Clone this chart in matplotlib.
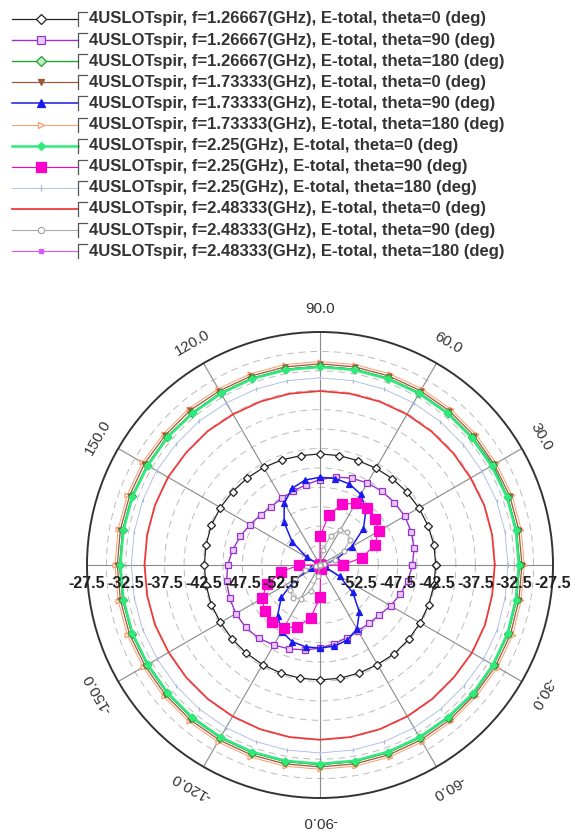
import numpy as np
import matplotlib
matplotlib.use('Agg')
import matplotlib.pyplot as plt
from matplotlib.lines import Line2D
from matplotlib.transforms import offset_copy

plt.rcParams['font.family'] = ['Liberation Sans', 'DejaVu Sans']

# angulos phi (grados), un punto cada 10 grados
phi = np.arange(0, 360, 10)

# E-total (dB), phi = 0..350
e_126_t0 = [-42.6, -42.6, -42.7, -42.8, -42.9, -43.0, -43.1, -43.2, -43.2, -43.2, -43.2, -43.1,
            -43.0, -42.9, -42.8, -42.7, -42.6, -42.6, -42.6, -42.6, -42.6, -42.7, -42.7, -42.7,
            -42.7, -42.7, -42.7, -42.7, -42.7, -42.7, -42.7, -42.6, -42.6, -42.6, -42.6, -42.6]
e_126_t90 = [-45.6, -45.2, -45.0, -44.9, -45.0, -45.1, -45.3, -45.6, -46.0, -46.5, -47.0, -47.4,
             -47.6, -47.7, -47.5, -47.1, -46.6, -46.1, -45.6, -45.3, -45.1, -45.0, -45.0, -45.2,
             -45.6, -46.0, -46.4, -46.8, -47.2, -47.5, -47.7, -47.7, -47.5, -47.0, -46.5, -46.0]
e_126_t180 = [-31.8, -31.8, -31.8, -31.8, -31.9, -31.9, -31.9, -31.9, -31.9, -31.9, -31.9, -31.9,
              -31.9, -31.9, -31.8, -31.8, -31.7, -31.7, -31.7, -31.7, -31.7, -31.8, -31.8, -31.8,
              -31.8, -31.8, -31.8, -31.8, -31.8, -31.8, -31.8, -31.8, -31.7, -31.7, -31.7, -31.8]
e_173_t0 = [-31.5, -31.5, -31.5, -31.6, -31.6, -31.6, -31.6, -31.6, -31.6, -31.6, -31.6, -31.6,
            -31.6, -31.5, -31.5, -31.4, -31.4, -31.4, -31.4, -31.4, -31.4, -31.5, -31.5, -31.5,
            -31.5, -31.5, -31.5, -31.5, -31.5, -31.5, -31.5, -31.5, -31.5, -31.4, -31.4, -31.5]
e_173_t90 = [-57.5, -56.8, -55.2, -52.8, -50.2, -48.3, -47.0, -46.4, -46.2, -46.2, -46.4, -47.0,
             -48.3, -50.3, -52.8, -55.5, -57.5, -57.5, -57.5, -57.5, -56.2, -53.8, -51.0, -49.0,
             -47.6, -47.0, -46.8, -46.8, -46.9, -47.2, -48.0, -49.6, -52.0, -54.6, -56.8, -57.5]
e_173_t180 = [-31.2, -31.2, -31.2, -31.3, -31.3, -31.3, -31.3, -31.3, -31.3, -31.3, -31.3, -31.3,
              -31.3, -31.2, -31.2, -31.1, -31.1, -31.1, -31.1, -31.1, -31.1, -31.2, -31.2, -31.2,
              -31.2, -31.2, -31.2, -31.2, -31.2, -31.2, -31.2, -31.2, -31.2, -31.1, -31.1, -31.2]
e_225_t0 = [-31.9, -31.9, -31.9, -32.0, -32.0, -32.0, -32.0, -32.0, -32.0, -32.0, -32.0, -32.0,
            -32.0, -32.0, -31.9, -31.9, -31.8, -31.8, -31.8, -31.8, -31.8, -31.9, -31.9, -31.9,
            -31.9, -31.9, -31.9, -31.9, -31.9, -31.9, -31.9, -31.9, -31.8, -31.8, -31.8, -31.9]
e_225_t90 = [-54.6, -52.0, -50.0, -48.8, -48.2, -48.0, -48.3, -49.2, -51.0, -53.8, -57.5, -57.5,
             -57.5, -57.5, -57.5, -57.5, -57.5, -57.5, -54.8, -52.4, -50.2, -48.9, -48.2, -47.9,
             -48.2, -49.0, -50.6, -53.4, -57.0, -57.5, -57.5, -57.5, -57.5, -57.5, -57.5, -57.5]
e_225_t180 = [-33.3, -33.3, -33.3, -33.4, -33.4, -33.4, -33.4, -33.4, -33.4, -33.4, -33.4, -33.4,
              -33.4, -33.3, -33.3, -33.2, -33.2, -33.2, -33.2, -33.2, -33.2, -33.3, -33.3, -33.3,
              -33.3, -33.3, -33.3, -33.3, -33.3, -33.3, -33.3, -33.3, -33.3, -33.2, -33.2, -33.3]
e_248_t0 = [-35.0, -35.0, -35.0, -35.1, -35.1, -35.1, -35.1, -35.1, -35.1, -35.1, -35.1, -35.1,
            -35.1, -35.0, -35.0, -34.9, -34.9, -34.9, -34.9, -34.9, -34.9, -35.0, -35.0, -35.0,
            -35.0, -35.0, -35.0, -35.0, -35.0, -35.0, -35.0, -35.0, -35.0, -34.9, -34.9, -35.0]
e_248_t90 = [-57.5, -57.0, -55.5, -54.0, -52.5, -52.0, -52.3, -53.5, -55.5, -57.5, -57.5, -57.5,
             -57.5, -57.5, -57.5, -57.5, -57.5, -57.5, -57.5, -57.0, -55.5, -53.8, -52.5, -52.0,
             -52.5, -54.0, -56.0, -57.5, -57.5, -57.5, -57.5, -57.5, -57.5, -57.5, -57.5, -57.5]
e_248_t180 = [-31.8, -31.8, -31.8, -31.8, -31.9, -31.9, -31.9, -31.9, -31.9, -31.9, -31.9, -31.9,
              -31.9, -31.9, -31.8, -31.8, -31.7, -31.7, -31.7, -31.7, -31.7, -31.8, -31.8, -31.8,
              -31.8, -31.8, -31.8, -31.8, -31.8, -31.8, -31.8, -31.8, -31.7, -31.7, -31.7, -31.8]

etiquetas = [
    "4USLOTspir, f=1.26667(GHz), E-total, theta=0 (deg)",
    "4USLOTspir, f=1.26667(GHz), E-total, theta=90 (deg)",
    "4USLOTspir, f=1.26667(GHz), E-total, theta=180 (deg)",
    "4USLOTspir, f=1.73333(GHz), E-total, theta=0 (deg)",
    "4USLOTspir, f=1.73333(GHz), E-total, theta=90 (deg)",
    "4USLOTspir, f=1.73333(GHz), E-total, theta=180 (deg)",
    "4USLOTspir, f=2.25(GHz), E-total, theta=0 (deg)",
    "4USLOTspir, f=2.25(GHz), E-total, theta=90 (deg)",
    "4USLOTspir, f=2.25(GHz), E-total, theta=180 (deg)",
    "4USLOTspir, f=2.48333(GHz), E-total, theta=0 (deg)",
    "4USLOTspir, f=2.48333(GHz), E-total, theta=90 (deg)",
    "4USLOTspir, f=2.48333(GHz), E-total, theta=180 (deg)",
]
series = [e_126_t0, e_126_t90, e_126_t180, e_173_t0, e_173_t90, e_173_t180,
          e_225_t0, e_225_t90, e_225_t180, e_248_t0, e_248_t90, e_248_t180]

# color, marcador, relleno, tamano, grosor
estilos = [
    ('#222222', 'D', 'white', 4.0, 0.9),
    ('#9933CC', 's', '#E6CCF5', 4.5, 1.0),
    ('#22A033', 'D', '#BFEFC0', 4.5, 1.0),
    ('#9A5A3A', 'v', '#9A5A3A', 3.5, 0.9),
    ('#1A1AEE', '^', '#1A1AEE', 4.5, 1.1),
    ('#FF9A6A', '>', 'white', 3.5, 0.7),
    ('#2EEA7A', 'D', '#2EEA7A', 3.5, 1.8),
    ('#FF00CC', 's', '#FF00CC', 6.5, 0.8),
    ('#A8B8E0', '|', '#A8B8E0', 3.5, 0.6),
    ('#F03A3A', None, 'none', 0, 1.3),
    ('#A8A8A8', 'o', 'white', 3.5, 0.8),
    ('#DD55FF', 's', '#DD55FF', 2.5, 0.8),
]

rmin, rmax = -57.5, -27.5
W, H = 584, 831
fig = plt.figure(figsize=(W / 100, H / 100), dpi=100)

cx, cy, rad = 320, 565, 233
ax = fig.add_axes([(cx - rad) / W, (H - cy - rad) / H, 2 * rad / W, 2 * rad / H],
                  projection='polar')
ax.set_ylim(rmin, rmax)
ax.grid(False)
ax.set_xticks([])
ax.set_yticks([])
ax.spines['polar'].set_color('#333333')
ax.spines['polar'].set_linewidth(1.4)

# rejilla
t = np.linspace(0, 2 * np.pi, 400)
for rv in np.arange(-55, -27.6, 2.5):
    ax.plot(t, np.full_like(t, rv), color='#BBBBBB', lw=0.7, ls=(0, (7, 5)), zorder=1)
for a in range(0, 360, 30):
    ax.plot([np.deg2rad(a)] * 2, [rmin, rmax], color='#8A8A8A', lw=0.8, zorder=1)

# curvas
ang = np.deg2rad(np.append(phi, 360))
orden = [11, 8, 5, 3, 2, 6, 9, 0, 1, 4, 7, 10]
for i in orden:
    col, mk, mfc, ms, lw = estilos[i]
    vals = np.clip(np.append(series[i], series[i][0]), rmin, None)
    ax.plot(ang, vals, color=col, lw=lw, marker=mk, mfc=mfc, mec=col, ms=ms,
            mew=0.9, zorder=3, clip_on=False)

# etiquetas de angulo
r_lab = rmin + (rmax - rmin) * 256 / 233
for a in [90, 60, 30, -30, -60, -90, -120, -150, 150, 120]:
    ax.text(np.deg2rad(a), r_lab, f"{a:.1f}", rotation=a - 90, rotation_mode='anchor',
            ha='center', va='center', fontsize=11, color='#333333', clip_on=False)

# etiquetas radiales
tr = offset_copy(ax.transData, fig=fig, y=-13, units='points')
for rv in [-52.5, -47.5, -42.5, -37.5, -32.5, -27.5]:
    for a in [0, np.pi]:
        ax.text(a, rv, f"{rv:.1f}", transform=tr, ha='center', va='center',
                fontsize=11.5, fontweight='bold', color='#222222', clip_on=False)

# leyenda
def fx(x):
    return x / W

def fy(y):
    return 1 - y / H

y0, dy = 19, 21.1
for k, txt in enumerate(etiquetas):
    y = y0 + k * dy
    col, mk, mfc, ms, lw = estilos[k]
    fig.add_artist(Line2D([fx(12), fx(78)], [fy(y), fy(y)], color=col, lw=lw))
    if mk is not None:
        fig.add_artist(Line2D([fx(41)], [fy(y)], color=col, marker=mk, mfc=mfc, mec=col,
                              ms=ms + 1, mew=0.9))
    fig.add_artist(Line2D([fx(78), fx(78), fx(87)], [fy(y + 7), fy(y - 7), fy(y - 7)],
                          color='#555555', lw=0.9))
    fig.text(fx(89), fy(y), txt, ha='left', va='center', fontsize=12,
             fontweight='bold', color='#333333')

fig.savefig('out.png', dpi=100)
